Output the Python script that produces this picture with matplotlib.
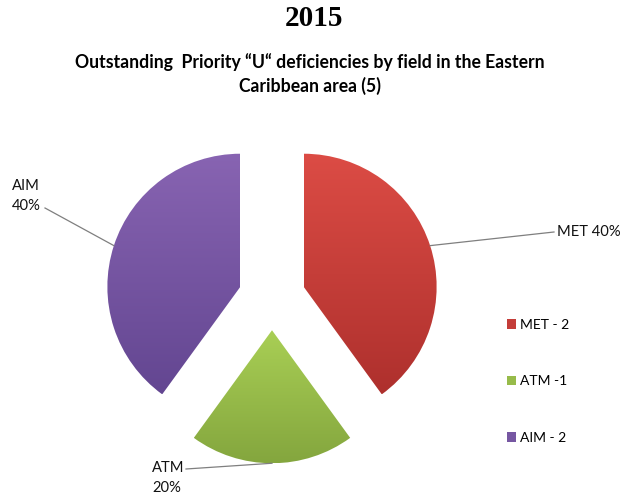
import numpy as np
import matplotlib
matplotlib.use('Agg')
import matplotlib.pyplot as plt
from matplotlib.patches import Patch
from matplotlib.colors import LinearSegmentedColormap

# data
fields = ['MET', 'ATM', 'AIM']
counts = [2, 1, 2]
legend_labels = ['MET - 2', 'ATM -1', 'AIM - 2']
slice_labels = ['MET 40%', 'ATM\n20%', 'AIM\n40%']
top_cols = ['#DC4C45', '#A9CF55', '#8864B2']
bot_cols = ['#AE302D', '#84A63E', '#634691']
mid_cols = ['#C43D39', '#97BB4A', '#7657A2']

W, H = 628, 498
R = 133
fig = plt.figure(figsize=(W / 100, H / 100), dpi=100)
ax = fig.add_axes([0, 0, 1, 1])

plt.rcParams['font.family'] = ['Lato', 'DejaVu Sans']

# explode is in data units here, so scale by radius
wedges, _ = ax.pie(counts, startangle=90, counterclock=False,
                   center=(272, H - 297), radius=R,
                   explode=[0.25 * R] * 3, frame=True)
ax.set_xlim(0, W)
ax.set_ylim(0, H)
ax.axis('off')

grad = np.linspace(0, 1, 256).reshape(-1, 1)
inv = ax.transData.inverted()
for w, c0, c1 in zip(wedges, top_cols, bot_cols):
    w.set_facecolor('none')
    w.set_edgecolor('none')
    ext = w.get_path().get_extents(w.get_transform())
    (x0, y0), (x1, y1) = inv.transform([[ext.x0, ext.y0], [ext.x1, ext.y1]])
    cmap = LinearSegmentedColormap.from_list('g', [c1, c0])
    im = ax.imshow(grad, cmap=cmap, extent=[x0, x1, y0, y1],
                   origin='lower', aspect='auto', zorder=1)
    im.set_clip_path(w)

# leader lines and labels
line_end = [(554, 232), (186, 469), (45, 208)]
text_xy = [(557, 232), (152, 478), (12, 196)]
for w, lab, le, txy in zip(wedges, slice_labels, line_end, text_xy):
    mid = np.deg2rad((w.theta1 + w.theta2) / 2)
    cx, cy = w.center
    px = cx + w.r * np.cos(mid)
    py = cy + w.r * np.sin(mid)
    ax.plot([px, le[0]], [py, H - le[1]], color='#7f7f7f', lw=0.9, zorder=3)
    ax.text(txy[0], H - txy[1], lab, ha='left', va='center',
            fontsize=10.6, color='#111111', linespacing=1.5, zorder=4)

handles = [Patch(facecolor=c, edgecolor='none') for c in mid_cols]
ax.legend(handles, legend_labels, loc='upper left',
          bbox_to_anchor=(500 / W, 1 - 312 / H), frameon=False,
          fontsize=10, handlelength=0.65, handleheight=0.65,
          handletextpad=0.3, labelspacing=3.2, borderpad=0)

fig.text(314 / W, 1 - 18 / H, '2015', ha='center', va='center',
         fontsize=21, fontweight='bold', family='Liberation Serif')
fig.text(310 / W, 1 - 62 / H,
         'Outstanding  Priority \u201cU\u201c deficiencies by field in the Eastern',
         ha='center', va='center', fontsize=12.7, fontweight='bold')
fig.text(310 / W, 1 - 86 / H, 'Caribbean area (5)',
         ha='center', va='center', fontsize=12.7, fontweight='bold')

fig.savefig('out.png', dpi=100)
